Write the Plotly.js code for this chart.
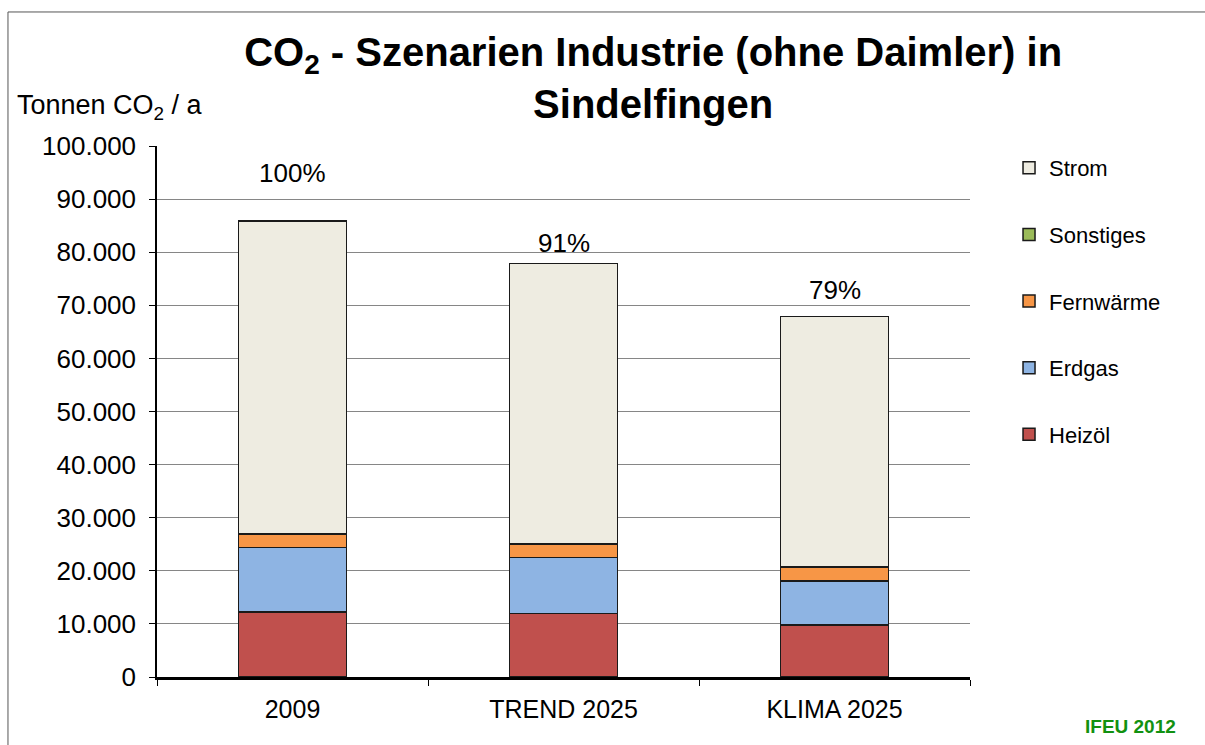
<!DOCTYPE html>
<html>
<head>
<meta charset="utf-8">
<script src="https://cdn.plot.ly/plotly-3.0.1.min.js"></script>
<style>html,body{margin:0;padding:0;background:#fff;}#chart{width:1205px;height:745px;}</style>
</head>
<body>
<div id="chart"></div>
<script>
const categories = ["2009", "TREND 2025", "KLIMA 2025"];
const heizoel   = [12200, 12000, 9800];
const erdgas    = [12150, 10500, 8300];
const fernwaerme= [2550, 2550, 2500];
const sonstiges = [100, 100, 100];
const strom     = [58900, 52750, 47150];
const percentLabels = ["100%", "91%", "79%"];
const yTicks = [0,10000,20000,30000,40000,50000,60000,70000,80000,90000,100000];

const FONT = "Liberation Sans, Arial, sans-serif";
const series = [
  {name: "Heizöl", y: heizoel, color: "#C0504D"},
  {name: "Erdgas", y: erdgas, color: "#8EB4E3"},
  {name: "Fernwärme", y: fernwaerme, color: "#F79646"},
  {name: "Sonstiges", y: sonstiges, color: "#9BBB59"},
  {name: "Strom", y: strom, color: "#EEECE1"}
];
const traces = series.map((s, i) => ({
  type: "bar", name: s.name, x: categories, y: s.y,
  legendgroup: "g" + i,
  legendrank: series.length - i,
  marker: {color: s.color, line: {color: "#1a1a1a", width: 1.5}},
  hoverinfo: "name+y"
}));

const totals = categories.map((c, i) => series.reduce((a, s) => a + s.y[i], 0));
const labelShift = [48, 20, 27];
const annotations = categories.map((c, i) => ({
  x: i, y: totals[i], xref: "x", yref: "y", text: percentLabels[i],
  showarrow: false, yshift: labelShift[i], yanchor: "middle",
  font: {family: FONT, size: 26, color: "#000"}
}));
annotations.push({
  xref: "paper", yref: "paper", x: -0.1747, y: 1.073, xanchor: "left", yanchor: "middle",
  text: "Tonnen CO<sub>2</sub> / a", showarrow: false,
  font: {family: FONT, size: 27, color: "#000"}
});
annotations.push({
  xref: "paper", yref: "paper", x: 1.198, y: -0.094, xanchor: "center", yanchor: "middle",
  text: "<b>IFEU 2012</b>", showarrow: false,
  font: {family: FONT, size: 19, color: "#119111"}
});

const layout = {
  width: 1205, height: 745,
  margin: {l: 157, r: 235, t: 146, b: 68},
  paper_bgcolor: "#fff", plot_bgcolor: "#fff",
  separators: ",.",
  barmode: "stack", bargap: 0.6,
  font: {family: FONT, color: "#000"},
  title: {
    text: "<b>CO<sub>2</sub> - Szenarien Industrie (ohne Daimler) in<br>Sindelfingen</b>",
    x: 0.542, xanchor: "center", y: 0.912, yanchor: "middle",
    font: {family: FONT, size: 40, color: "#000"}
  },
  xaxis: {
    type: "category", categoryorder: "array", categoryarray: categories,
    range: [-0.5, 2.5], autorange: false,
    tickson: "boundaries", ticks: "outside", ticklen: 6, tickcolor: "#000",
    ticklabelstandoff: 8,
    showline: true, linecolor: "#000", linewidth: 2.5,
    tickfont: {family: FONT, size: 25, color: "#000"},
    showgrid: false, tickangle: 0
  },
  yaxis: {
    range: [0, 100000], autorange: false, tickvals: yTicks, tickformat: ",.0f",
    ticks: "outside", ticklen: 6, tickcolor: "#000",
    ticklabelstandoff: 8,
    showline: true, linecolor: "#000", linewidth: 1.5,
    gridcolor: "#868686", gridwidth: 1,
    tickfont: {family: FONT, size: 26, color: "#000"},
    zeroline: false
  },
  legend: {
    x: 1.048, xanchor: "left", y: 0.998, yanchor: "top",
    traceorder: "grouped", tracegroupgap: 35,
    font: {family: FONT, size: 22, color: "#000"},
    itemwidth: 30
  },
  annotations: annotations,
  shapes: [{
    type: "rect", xref: "paper", yref: "paper",
    x0: -0.1833, x1: 1.30, y0: -0.15, y1: 1.2524,
    line: {color: "#555", width: 1}
  }]
};
Plotly.newPlot("chart", traces, layout, {displayModeBar: false});
</script>
</body>
</html>
